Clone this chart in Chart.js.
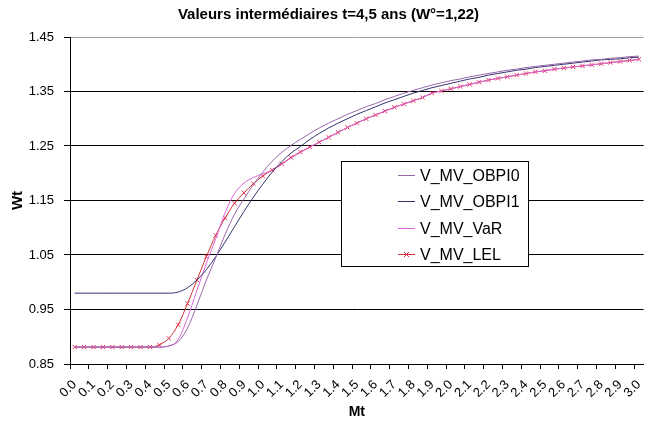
<!DOCTYPE html>
<html><head><meta charset="utf-8">
<script src="https://cdn.jsdelivr.net/npm/chart.js@4.4.0/dist/chart.umd.min.js"></script>
<style>html,body{margin:0;padding:0;background:#fff}</style>
</head><body>
<canvas id="c" width="658" height="426"></canvas>
<script>
const mt = ["0.00","0.05","0.10","0.15","0.20","0.25","0.30","0.35","0.40","0.45",
"0.50","0.55","0.60","0.65","0.70","0.75","0.80","0.85","0.90","0.95",
"1.00","1.05","1.10","1.15","1.20","1.25","1.30","1.35","1.40","1.45",
"1.50","1.55","1.60","1.65","1.70","1.75","1.80","1.85","1.90","1.95",
"2.00","2.05","2.10","2.15","2.20","2.25","2.30","2.35","2.40","2.45",
"2.50","2.55","2.60","2.65","2.70","2.75","2.80","2.85","2.90","2.95","3.00"];
const xTickLabels = ["0.0","0.1","0.2","0.3","0.4","0.5","0.6","0.7","0.8","0.9","1.0",
"1.1","1.2","1.3","1.4","1.5","1.6","1.7","1.8","1.9","2.0",
"2.1","2.2","2.3","2.4","2.5","2.6","2.7","2.8","2.9","3.0"];
const yTicks = [0.85,0.95,1.05,1.15,1.25,1.35,1.45];

const obpi0 = [0.881,0.881,0.881,0.881,0.881,0.881,0.881,0.881,0.881,0.881,
0.883,0.891,0.916,0.958,1.004,1.045,1.088,1.125,1.153,1.179,
1.202,1.222,1.238,1.251,1.262,1.273,1.283,1.292,1.300,1.308,
1.315,1.322,1.328,1.335,1.341,1.347,1.352,1.357,1.362,1.366,
1.370,1.373,1.377,1.380,1.383,1.386,1.389,1.391,1.394,1.396,
1.398,1.400,1.402,1.404,1.406,1.408,1.409,1.411,1.412,1.414,1.415];
const obpi1 = [0.980,0.980,0.980,0.980,0.980,0.980,0.980,0.980,0.980,0.980,
0.980,0.982,0.990,1.004,1.023,1.047,1.074,1.102,1.130,1.156,
1.180,1.202,1.221,1.237,1.249,1.262,1.273,1.283,1.292,1.300,
1.308,1.315,1.322,1.329,1.335,1.341,1.347,1.352,1.357,1.361,
1.365,1.369,1.373,1.376,1.380,1.383,1.386,1.389,1.391,1.394,
1.396,1.398,1.400,1.402,1.404,1.406,1.408,1.409,1.410,1.412,1.413];
const varV = [0.881,0.881,0.881,0.881,0.881,0.881,0.881,0.881,0.881,0.881,
0.883,0.895,0.935,0.985,1.035,1.080,1.128,1.163,1.182,1.192,
1.199,1.206,1.216,1.228,1.238,1.248,1.257,1.266,1.275,1.284,
1.292,1.300,1.307,1.314,1.321,1.327,1.333,1.339,1.347,1.351,
1.355,1.359,1.363,1.367,1.371,1.374,1.377,1.380,1.383,1.386,
1.388,1.391,1.393,1.395,1.397,1.399,1.401,1.403,1.405,1.407,1.409];
const lel = [0.881,0.881,0.881,0.881,0.881,0.881,0.881,0.881,0.881,0.885,
0.897,0.922,0.961,1.004,1.047,1.086,1.118,1.145,1.164,1.181,
1.195,1.206,1.217,1.229,1.239,1.248,1.257,1.266,1.275,1.284,
1.292,1.300,1.307,1.314,1.321,1.327,1.333,1.339,1.347,1.351,
1.355,1.359,1.363,1.367,1.371,1.374,1.377,1.380,1.383,1.386,
1.388,1.391,1.393,1.395,1.397,1.399,1.401,1.403,1.405,1.407,1.409];

const FONT = "'Liberation Sans', Arial, sans-serif";

const legendBox = {
  id: 'legendBox',
  afterDatasetsDraw(chart) {
    const ctx = chart.ctx;
    const L = 341, T = 161, W = 187, H = 105, row0 = 175, step = 26.3;
    ctx.save();
    ctx.fillStyle = '#fff';
    ctx.fillRect(L, T, W, H);
    ctx.strokeStyle = '#000';
    ctx.lineWidth = 1;
    ctx.strokeRect(L + 0.5, T + 0.5, W, H);
    ctx.font = '16px ' + FONT;
    ctx.textBaseline = 'middle';
    chart.data.datasets.forEach((ds, i) => {
      const y = Math.round(row0 + i * step) + 0.5;
      ctx.strokeStyle = ds.borderColor;
      ctx.lineWidth = 1;
      ctx.beginPath(); ctx.moveTo(398, y); ctx.lineTo(415, y); ctx.stroke();
      if (ds.pointRadius > 0) {
        ctx.strokeStyle = ds.pointBorderColor;
        const cx = 406.5, r = 2.5;
        ctx.beginPath();
        ctx.moveTo(cx - r, y - r); ctx.lineTo(cx + r, y + r);
        ctx.moveTo(cx - r, y + r); ctx.lineTo(cx + r, y - r);
        ctx.stroke();
      }
      ctx.fillStyle = '#000';
      ctx.fillText(ds.label, 420, y + 1);
    });
    ctx.restore();
  }
};

new Chart(document.getElementById('c'), {
  type: 'line',
  data: {
    labels: mt,
    datasets: [
      {label: 'V_MV_OBPI0', data: obpi0, borderColor: '#9966AA', borderWidth: 1, pointRadius: 0, cubicInterpolationMode: 'monotone'},
      {label: 'V_MV_OBPI1', data: obpi1, borderColor: '#333370', borderWidth: 1, pointRadius: 0, cubicInterpolationMode: 'monotone'},
      {label: 'V_MV_VaR', data: varV, borderColor: '#D966DD', borderWidth: 1, pointRadius: 0, cubicInterpolationMode: 'monotone'},
      {label: 'V_MV_LEL', data: lel, borderColor: '#CC3333', borderWidth: 1, pointRadius: 3, pointStyle: 'crossRot', pointBorderColor: '#E83355', pointBorderWidth: 1, cubicInterpolationMode: 'monotone'}
    ]
  },
  options: {
    responsive: false,
    animation: false,
    devicePixelRatio: 1,
    layout: {padding: {left: 0, right: 1, top: 0, bottom: 0}},
    plugins: {
      legend: {display: false},
      tooltip: {enabled: false},
      title: {
        display: true, fullSize: true,
        text: 'Valeurs intermédiaires t=4,5 ans (W°=1,22)',
        color: '#000', font: {family: FONT, size: 15, weight: 'bold'},
        padding: {top: 6, bottom: 13}
      }
    },
    scales: {
      x: {
        type: 'category',
        offset: true,
        grid: {
          offset: true, drawOnChartArea: false, tickLength: 5,
          tickColor: (c) => (c.index !== undefined && c.index % 2 === 0) ? '#000' : 'rgba(0,0,0,0)'
        },
        border: {display: true, color: '#000'},
        ticks: {
          autoSkip: false, minRotation: 45, maxRotation: 45, padding: 8,
          color: '#000', font: {family: FONT, size: 13},
          callback: (v, i) => (i % 2 === 0) ? xTickLabels[i / 2] : ''
        },
        title: {display: true, text: 'Mt', color: '#000', font: {family: FONT, size: 14, weight: 'bold'}, padding: {top: 0, bottom: 5}},
        afterFit: (s) => { s.height = 62; }
      },
      y: {
        min: 0.85, max: 1.45,
        afterBuildTicks: (s) => { s.ticks = yTicks.map(v => ({value: v})); },
        grid: {
          color: (c) => (c.tick && c.tick.value === 1.45) ? '#A0A0A0' : '#000',
          tickColor: '#000', tickLength: 6
        },
        border: {display: true, color: '#000'},
        ticks: {color: '#000', font: {family: FONT, size: 13}, padding: 10, callback: (v) => Number(v).toFixed(2)},
        title: {display: true, text: 'Wt', color: '#000', font: {family: FONT, size: 15, weight: 'bold'}, padding: {top: 9, bottom: 0}},
        afterFit: (s) => { s.width = 70; }
      }
    }
  },
  plugins: [legendBox]
});
</script>
</body></html>
